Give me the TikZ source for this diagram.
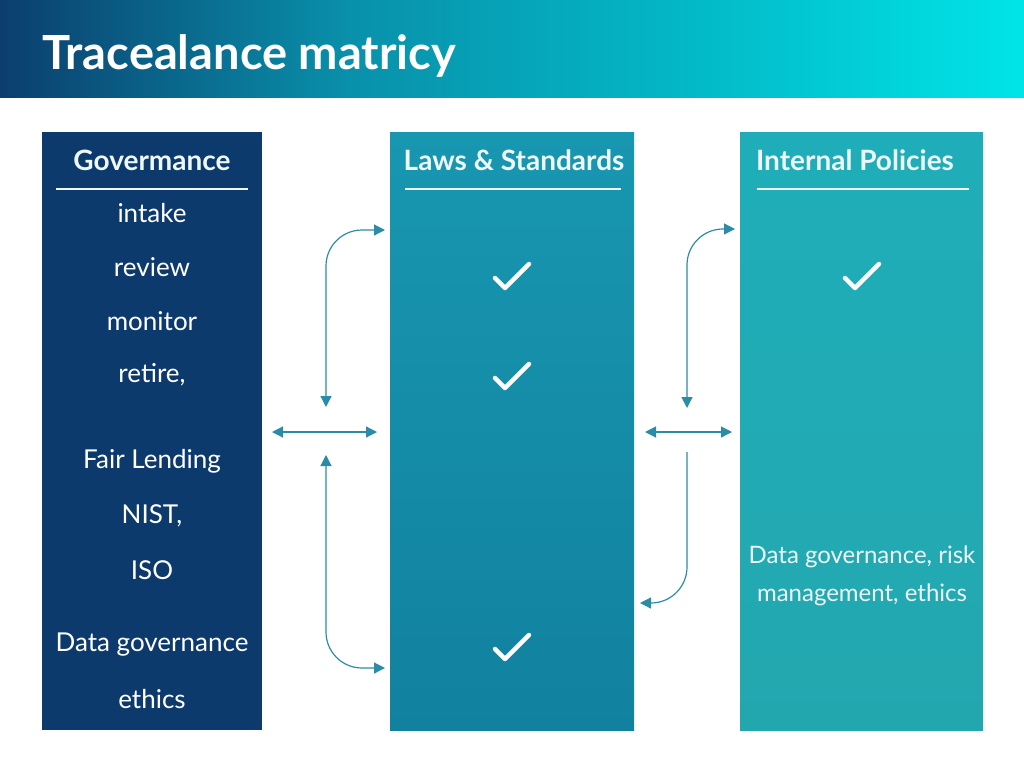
\documentclass[tikz,border=0pt]{standalone}
\usepackage{fontspec}
\setmainfont{Lato}
\usetikzlibrary{arrows.meta}
\definecolor{navy}{HTML}{0D3A6C}
\definecolor{lawtop}{HTML}{1897B1}
\definecolor{lawbot}{HTML}{11819F}
\definecolor{poltop}{HTML}{1FAEB9}
\definecolor{polbot}{HTML}{23A7AF}
\definecolor{linkcol}{HTML}{2B8CA6}
\definecolor{paper}{HTML}{EEF8F9}
\definecolor{bannera}{HTML}{0B3E6E}
\definecolor{bannerb}{HTML}{0990AA}
\definecolor{bannerc}{HTML}{03BCC9}
\definecolor{bannerd}{HTML}{00E4E8}
%% path spans 25bp..75bp of the shading
\pgfdeclarehorizontalshading{banner}{100bp}{color(0bp)=(bannera); color(25bp)=(bannera); color(42bp)=(bannerb); color(60bp)=(bannerc); color(75bp)=(bannerd); color(100bp)=(bannerd)}
\tikzset{
  column/.style={minimum width=#1, minimum height=598pt, inner sep=0pt},
  colhead/.style={text=paper, font=\fontsize{28}{32}\selectfont\bfseries},
  item/.style={text=white, font=\fontsize{26}{30}\selectfont, align=center},
  note/.style={text=paper, font=\fontsize{24}{38}\selectfont, align=center},
  headrule/.style={paper, line width=1.2pt},
  link/.style={linkcol, line width=1.2pt, rounded corners=36pt},
  checkmark/.pic={\draw[white, line width=4.5pt, line cap=round, line join=round] (-17,2) -- (-7,12) -- (17,-12);}
}
\begin{document}
\begin{tikzpicture}[x=1pt, y=-1pt]
\useasboundingbox (0,0) rectangle (1024,768);
%% banner
\fill[shading=banner] (0,0) rectangle (1024,97);
\node[anchor=base west, text=white, font=\fontsize{47}{52}\selectfont\bfseries, inner sep=0pt] (title) at (42,70) {Tracealance matricy};
%% columns
\node[column=220pt, fill=navy] (gov) at (152,431) {};
\node[column=244pt, top color=lawtop, bottom color=lawbot] (law) at (512,431) {};
\node[column=243pt, top color=poltop, bottom color=polbot] (pol) at (861.5,431) {};
\node[colhead] (govhead) at (152,160) {Govermance};
\node[colhead] (lawhead) at (514,160) {Laws \& Standards};
\node[colhead] (polhead) at (855,160) {Internal Policies};
\draw[headrule] (56,189) -- (248,189);
\draw[headrule] (405,189) -- (621,189);
\draw[headrule] (757,189) -- (969,189);
%% governance items
\node[item] (intake) at (152,213) {intake};
\node[item] (review) at (152,267) {review};
\node[item] (monitor) at (152,321) {monitor};
\node[item] (retire) at (152,375) {retire,};
\node[item] (fair) at (152,461) {Fair Lending};
\node[item] (nist) at (152,516) {NIST,};
\node[item] (iso) at (152,570) {ISO};
\node[item] (datagov) at (152,645) {Data governance};
\node[item] (ethics) at (152,699) {ethics};
\node[note] (polnote) at (862,576) {Data governance, risk\\management, ethics};
%% checks
\pic (chka) at (512,276) {checkmark};
\pic (chkb) at (512,376) {checkmark};
\pic (chkc) at (512,647) {checkmark};
\pic (chkd) at (862,276) {checkmark};
%% connectors
\coordinate (la) at (326,407);
\coordinate (lb) at (385,230);
\coordinate (lc) at (272,432);
\coordinate (ld) at (377,432);
\coordinate (le) at (326,455);
\coordinate (lf) at (385,668);
\coordinate (ra) at (687,408);
\coordinate (rb) at (735,229);
\coordinate (rc) at (645,432);
\coordinate (rd) at (732,432);
\coordinate (re) at (687,452);
\coordinate (rf) at (640,603);
\begin{scope}[{Triangle[width=11pt,length=11pt]}-{Triangle[width=11pt,length=11pt]}]
  \draw[link] (la) |- (lb);
  \draw[link] (lc) -- (ld);
  \draw[link] (le) |- (lf);
  \draw[link] (ra) |- (rb);
  \draw[link] (rc) -- (rd);
\end{scope}
\draw[link, -{Triangle[width=11pt,length=11pt]}] (re) |- (rf);
\end{tikzpicture}
\end{document}
